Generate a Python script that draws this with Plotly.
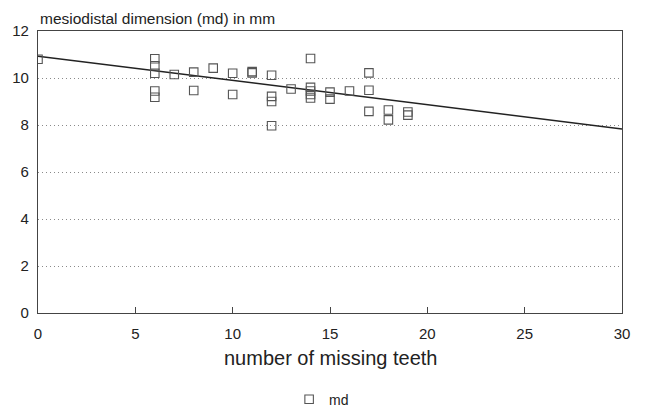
import plotly.graph_objects as go

# Data
missing_teeth = [0,
                 6, 6, 6, 6, 6,
                 7,
                 8, 8,
                 9,
                 10, 10,
                 11, 11,
                 12, 12, 12, 12,
                 13,
                 14, 14, 14, 14, 14,
                 15, 15,
                 16,
                 17, 17, 17,
                 18, 18,
                 19, 19]
md_values = [10.8,
             10.82, 10.52, 10.2, 9.45, 9.18,
             10.15,
             10.25, 9.47,
             10.42,
             10.2, 9.3,
             10.27, 10.22,
             10.12, 9.22, 9.0, 7.97,
             9.53,
             10.83, 9.6, 9.45, 9.3, 9.15,
             9.4, 9.1,
             9.45,
             10.22, 9.48, 8.58,
             8.64, 8.22,
             8.55, 8.42]

fit_x = [0, 30]
fit_y = [10.93, 7.83]

x_ticks = [0, 5, 10, 15, 20, 25, 30]
y_ticks = [0, 2, 4, 6, 8, 10, 12]

FONT = "Liberation Sans, Arial, Helvetica, sans-serif"

fig = go.Figure()
fig.add_trace(go.Scatter(
    x=fit_x, y=fit_y, mode="lines",
    line=dict(color="#222222", width=1.5),
    showlegend=False, hoverinfo="skip"))
fig.add_trace(go.Scatter(
    x=missing_teeth, y=md_values, mode="markers", name="md",
    marker=dict(symbol="square-open", size=8.5, color="#555555",
                line=dict(width=1.1, color="#555555"))))

fig.update_layout(
    width=645, height=412,
    margin=dict(l=38, r=23, t=31, b=99),
    paper_bgcolor="white", plot_bgcolor="white",
    font=dict(family=FONT, color="#222222", size=15),
    showlegend=True,
    legend=dict(orientation="h", x=0.43, xref="paper", xanchor="left",
                y=0.03, yref="container", yanchor="middle",
                font=dict(size=14, family=FONT), itemsizing="trace"),
    annotations=[
        dict(text="mesiodistal dimension (md) in mm",
             xref="paper", yref="paper", x=0, y=1,
             xanchor="left", yanchor="middle", yshift=13,
             showarrow=False, font=dict(size=15.5, family=FONT)),
        dict(text="number of missing teeth",
             xref="paper", yref="paper", x=0.5, y=0,
             xanchor="center", yanchor="middle", yshift=-45,
             showarrow=False, font=dict(size=20, family=FONT)),
    ],
)
fig.update_xaxes(
    range=[0, 30], tickvals=x_ticks, ticks="inside", ticklen=6,
    tickcolor="#444444", showgrid=False, zeroline=False,
    showline=True, linecolor="#444444", linewidth=1.2, mirror=True,
    tickfont=dict(size=15), automargin=False, ticklabelstandoff=7)
fig.update_yaxes(
    range=[0, 12], tickvals=y_ticks, ticks="", showgrid=True,
    gridcolor="#8a8a8a", griddash="1px,3px", gridwidth=1, zeroline=False,
    showline=True, linecolor="#444444", linewidth=1.2, mirror=True,
    tickfont=dict(size=15), automargin=False, ticklabelstandoff=5)

fig.write_html("out.html", config={"displayModeBar": False},
               post_script="document.body.style.margin='0';")
